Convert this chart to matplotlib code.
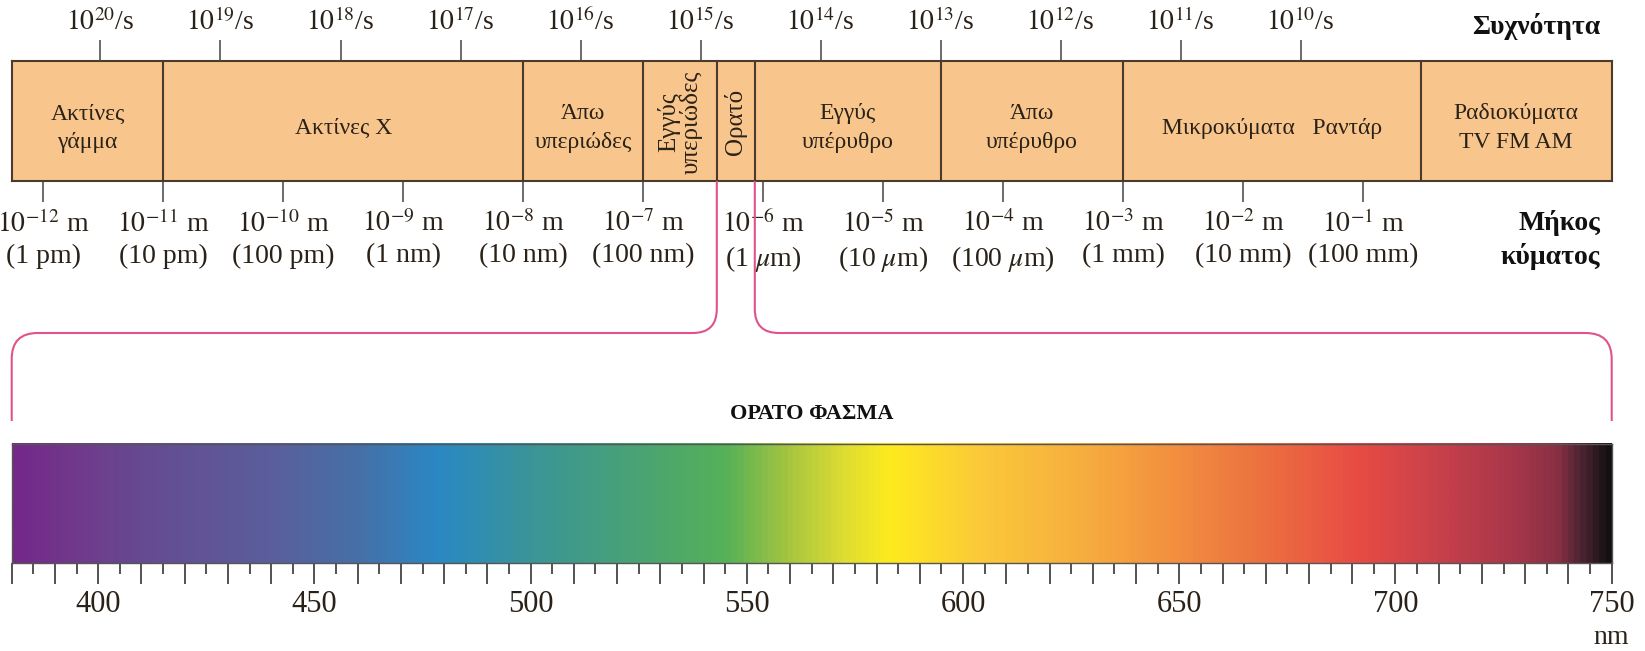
import matplotlib.pyplot as plt
import numpy as np
from matplotlib.colors import LinearSegmentedColormap, Normalize
from matplotlib.path import Path
from matplotlib.patches import PathPatch
from matplotlib.ticker import NullLocator

plt.rcParams['font.family'] = ['Liberation Serif', 'DejaVu Serif']
plt.rcParams['mathtext.fontset'] = 'stix'

C = 3e8
W, H = 1645, 651

# --- EM spectrum, wavelengths in m ---
band_edges = [5.46e-13, 1e-11, 1e-8, 1e-7, 4.1e-7, 8.5e-7, 3e-5, 1e-3, 0.3, 11.75]
band_labels = ['Ακτίνες\nγάμμα', 'Ακτίνες Χ', 'Άπω\nυπεριώδες', 'Εγγύς\nυπεριώδες', 'Ορατό',
               'Εγγύς\nυπέρυθρο', 'Άπω\nυπέρυθρο', 'Μικροκύματα   Ραντάρ', 'Ραδιοκύματα\nTV FM AM']
band_rot = [0, 0, 0, 90, 90, 0, 0, 0, 0]
visible_band = 4

freq_exp = [20, 19, 18, 17, 16, 15, 14, 13, 12, 11, 10]
wl_exp = [-12, -11, -10, -9, -8, -7, -6, -5, -4, -3, -2, -1]
wl_units = ['(1 pm)', '(10 pm)', '(100 pm)', '(1 nm)', '(10 nm)', '(100 nm)',
            r'(1 $\mu$m)', r'(10 $\mu$m)', r'(100 $\mu$m)', '(1 mm)', '(10 mm)', '(100 mm)']

# --- visible spectrum, nm ---
vis_range = (380, 750)
vis_nm = [380, 395, 410, 440, 460, 478, 500, 520, 545, 560, 572, 583, 605, 628, 650,
          670, 692, 710, 728, 738, 744, 750]
vis_colors = ['#73288a', '#713a8c', '#664b91', '#5a5f9c', '#4670a8', '#2a88c4', '#3a9598',
              '#47a07a', '#55b158', '#a8c63f', '#dcdc33', '#feeb1e', '#fbc83a', '#f6ae3e',
              '#f28e3f', '#ec7040', '#e84b45', '#c8414a', '#a8364a', '#8a3045', '#4a2431',
              '#141012']
nm_labels = [400, 450, 500, 550, 600, 650, 700, 750]

orange = '#f8c68c'
edge = '#4a3b2c'
txt = '#2a2218'
pink = '#e0528a'

fig = plt.figure(figsize=(W / 100, H / 100), dpi=100, facecolor='white')

# top band box
ax = fig.add_axes([11.7 / W, 1 - 181 / H, 1600 / W, 120.3 / H])
ax.set_xscale('log')
ax.set_xlim(band_edges[0], band_edges[-1])
ax.set_ylim(0, 1)
ax.set_facecolor(orange)
ax.set_yticks([])
for s in ax.spines.values():
    s.set_color(edge)
    s.set_linewidth(1.5)
for e in band_edges[1:-1]:
    ax.axvline(e, color=edge, lw=1.5)
for lo, hi, lab, rot in zip(band_edges[:-1], band_edges[1:], band_labels, band_rot):
    xc = np.sqrt(lo * hi)
    if rot:
        ax.text(xc, 0.49, lab, rotation=90, ha='center', va='center', fontsize=18,
                color=txt, linespacing=1.0)
    else:
        ax.text(xc, 0.44, lab, ha='center', va='center', fontsize=17, color=txt,
                linespacing=1.45)

ax.set_xticks([10.0 ** e for e in wl_exp])
ax.set_xticklabels(['$10^{%d}$ m\n%s' % (e, u) for e, u in zip(wl_exp, wl_units)], fontsize=20,
                   color=txt, linespacing=1.3)
ax.xaxis.set_minor_locator(NullLocator())
ax.tick_params(axis='x', direction='out', length=15, width=1.1, color='#444', pad=6)

ax2 = ax.twiny()
ax2.set_xscale('log')
ax2.set_xlim(ax.get_xlim())
ax2.set_xticks([C / 10.0 ** e for e in freq_exp])
ax2.set_xticklabels(['$10^{%d}$/s' % e for e in freq_exp], fontsize=20, color=txt)
ax2.xaxis.set_minor_locator(NullLocator())
ax2.tick_params(axis='x', direction='out', length=15, width=1.1, color='#444', pad=3)
for s in ax2.spines.values():
    s.set_visible(False)

# visible spectrum bar
ax3 = fig.add_axes([11.7 / W, 1 - 563.3 / H, 1600 / W, 119.8 / H])
pos = (np.array(vis_nm) - vis_range[0]) / (vis_range[1] - vis_range[0])
cmap = LinearSegmentedColormap.from_list('vis', list(zip(pos, vis_colors)))
grad = np.linspace(vis_range[0], vis_range[1], 1500)[None, :]
ax3.imshow(grad, extent=[vis_range[0], vis_range[1], 0, 1], aspect='auto', cmap=cmap,
           norm=Normalize(*vis_range))
ax3.set_xlim(*vis_range)
ax3.set_ylim(0, 1)
ax3.set_yticks([])
major = np.arange(vis_range[0], vis_range[1] + 1, 10)
ax3.set_xticks(major)
ax3.set_xticklabels([str(v) if v in nm_labels else '' for v in major], fontsize=22, color=txt)
ax3.set_xticks(np.arange(vis_range[0] + 5, vis_range[1], 10), minor=True)
ax3.tick_params(axis='x', which='major', direction='out', length=15, width=1.3, color='#444', pad=4)
ax3.tick_params(axis='x', which='minor', direction='out', length=8, width=1.3, color='#444')
for s in ax3.spines.values():
    s.set_color('#555')
    s.set_linewidth(1.0)

# overlay in pixel coordinates for bracket and free text
ov = fig.add_axes([0, 0, 1, 1])
ov.set_xlim(0, W)
ov.set_ylim(H, 0)
ov.axis('off')


def px(a, x, y):
    d = a.transData.transform((x, y))
    return d[0], H - d[1]


xl, ytop = px(ax, band_edges[visible_band], 0)
xr, _ = px(ax, band_edges[visible_band + 1], 0)
x0, ybar = px(ax3, vis_range[0], 1)
x1, _ = px(ax3, vis_range[1], 1)
ymid, ybot, r1, r2 = 333, 421, 24, 26


def bracket(x_in, x_out):
    s = np.sign(x_out - x_in)
    verts = [(x_in, ytop), (x_in, ymid - r1), (x_in, ymid), (x_in + s * r1, ymid),
             (x_out - s * r2, ymid), (x_out, ymid), (x_out, ymid + r2), (x_out, ybot)]
    codes = [Path.MOVETO, Path.LINETO, Path.CURVE3, Path.CURVE3,
             Path.LINETO, Path.CURVE3, Path.CURVE3, Path.LINETO]
    return PathPatch(Path(verts, codes), fc='none', ec=pink, lw=1.5)


ov.add_patch(bracket(xl, x0))
ov.add_patch(bracket(xr, x1))

ov.text((x0 + x1) / 2, 414, 'ΟΡΑΤΟ ΦΑΣΜΑ', ha='center', va='center', fontsize=16,
        fontweight='bold', color='#111')
ov.text(1600, 34, 'Συχνότητα', ha='right', va='baseline', fontsize=20, fontweight='bold',
        color='#111')
ov.text(1600, 240, 'Μήκος\nκύματος', ha='right', va='center', multialignment='right',
        fontsize=20, fontweight='bold', color='#111', linespacing=1.35)
ov.text(x1, 638, 'nm', ha='center', va='center', fontsize=20, color=txt)

fig.savefig('out.png', dpi=100, facecolor='white')
